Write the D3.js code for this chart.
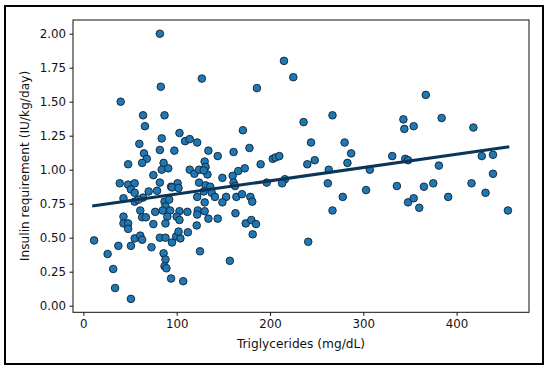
<!DOCTYPE html>
<html>
<head>
<meta charset="utf-8">
<script src="https://cdn.jsdelivr.net/npm/d3@7"></script>
<style>
  body { margin: 0; background: #fff; }
  text { font-family: "DejaVu Sans", sans-serif; }
</style>
</head>
<body>
<div class="mainContainer"></div>
<script>
// triglycerides (mg/dL) and insulin requirement (IU/kg/day)
const trig = [
  215, 225, 236, 267, 244, 280, 287, 240, 248, 283, 263, 262, 307, 303, 278, 267,
  331, 336, 343, 344, 345, 348, 348, 241, 216, 367, 384, 354, 418, 381, 427, 439,
  439, 365, 375, 416, 431, 354, 360, 391, 455, 213, 203, 206, 210, 190, 186, 196.5,
  82, 83, 40, 64, 87, 66, 103, 84, 60, 82, 97.5, 109, 114, 122, 65, 68,
  48, 63, 86, 127, 171, 134, 178, 161, 144, 130, 39, 48, 55, 75, 82, 84,
  91, 94, 101, 114, 119, 124, 131, 133, 124, 131, 136, 149, 160, 166, 173, 161,
  162.6, 129, 51, 55, 70, 79, 95, 102, 43, 55, 64, 59, 87, 92, 88, 61,
  77, 85, 93, 103, 63, 67, 90, 100, 103, 88, 43, 43, 48, 48, 75, 55,
  61, 63, 37.5, 51, 73, 82, 88, 95, 99.5, 104, 102, 11.5, 26, 32, 34, 51,
  86, 88, 87, 89, 94, 107, 125, 157, 112, 121.5, 134, 144, 163, 174, 180, 181.5,
  185, 122, 129, 137.6, 141, 153, 164, 170, 179, 181, 149, 130, 111.5, 122.6, 130, 122
];
const insulin = [
  1.80, 1.68, 1.35, 1.40, 1.20, 1.20, 1.12, 1.04, 1.07, 1.05, 1.00, 0.90, 1.00, 0.85, 0.80, 0.70,
  1.10, 0.88, 1.37, 1.30, 1.08, 1.07, 0.76, 0.47, 0.93, 1.55, 1.38, 1.32, 1.31, 1.03, 1.10, 1.11,
  0.97, 0.875, 0.90, 0.90, 0.83, 0.79, 0.72, 0.80, 0.70, 0.90, 1.08, 1.09, 1.10, 1.04, 1.60, 0.905,
  2.00, 1.61, 1.50, 1.40, 1.40, 1.32, 1.27, 1.23, 1.19, 1.145, 1.14, 1.21, 1.225, 1.20, 1.12, 1.08,
  1.04, 1.05, 1.05, 1.67, 1.29, 1.14, 1.16, 1.13, 1.10, 1.06, 0.90, 0.89, 0.90, 0.96, 0.905, 1.00,
  1.01, 0.875, 0.90, 1.00, 0.97, 1.00, 1.02, 0.965, 0.905, 0.885, 0.875, 0.94, 0.955, 0.99, 1.01, 0.905,
  0.88, 0.995, 0.855, 0.83, 0.84, 0.845, 0.87, 0.865, 0.79, 0.765, 0.795, 0.78, 0.765, 0.78, 0.73, 0.70,
  0.69, 0.70, 0.70, 0.695, 0.65, 0.65, 0.655, 0.655, 0.63, 0.605, 0.655, 0.605, 0.605, 0.565, 0.60, 0.495,
  0.515, 0.485, 0.44, 0.44, 0.43, 0.50, 0.50, 0.465, 0.51, 0.495, 0.545, 0.48, 0.38, 0.27, 0.13, 0.05,
  0.385, 0.34, 0.29, 0.275, 0.20, 0.18, 0.40, 0.33, 0.54, 0.59, 0.64, 0.64, 0.68, 0.605, 0.63, 0.525,
  0.60, 0.80, 0.84, 0.83, 0.80, 0.80, 0.80, 0.82, 0.80, 0.765, 0.76, 0.76, 0.69, 0.70, 0.695, 0.67
];
const xTicks = [0, 100, 200, 300, 400];
const yTicks = [0, 0.25, 0.5, 0.75, 1.0, 1.25, 1.5, 1.75, 2.0];
// fitted line: insulin = fitA + fitB * trig
const fitA = 0.7236;
const fitB = 0.000975;

const data = trig.map((t, i) => ({ t: t, v: insulin[i] }));

const svg = d3.select('.mainContainer')
    .append('svg')
    .attr('width', 550)
    .attr('height', 373);

// outer border
svg.append('rect')
    .attr('x', 5).attr('y', 6)
    .attr('width', 538).attr('height', 358)
    .attr('fill', 'none')
    .attr('stroke', '#000')
    .attr('stroke-width', 2);

const x = d3.scaleLinear()
    .domain([-11.1, 477.6])
    .range([73, 529]);

const y = d3.scaleLinear()
    .domain([-0.0485, 2.1007])
    .range([312.3, 20]);

const xAxis = d3.axisBottom(x)
    .tickValues(xTicks)
    .tickFormat(d3.format('d'))
    .tickSize(3.5)
    .tickPadding(3.5);

const yAxis = d3.axisLeft(y)
    .tickValues(yTicks)
    .tickFormat(d3.format('.2f'))
    .tickSize(3.5)
    .tickPadding(3.5);

const xAxisGroup = svg.append('g')
    .attr('transform', `translate(0,${y.range()[0]})`)
    .call(xAxis);
const yAxisGroup = svg.append('g')
    .attr('transform', `translate(${x.range()[0]},0)`)
    .call(yAxis);

[xAxisGroup, yAxisGroup].forEach(g => {
    g.select('.domain').remove();
    g.selectAll('text')
        .attr('font-family', '"DejaVu Sans", sans-serif')
        .attr('font-size', 11.8)
        .attr('fill', '#111');
    g.selectAll('line').attr('stroke', '#111');
});

// points
svg.append('g').selectAll('circle')
    .data(data)
    .enter()
    .append('circle')
    .attr('cx', d => x(d.t))
    .attr('cy', d => y(d.v))
    .attr('r', 3.8)
    .attr('fill', '#1f77b4')
    .attr('stroke', '#0d2233')
    .attr('stroke-width', 0.9);

// regression line
const tMin = d3.min(trig) - 2;
const tMax = d3.max(trig) + 1.5;
svg.append('line')
    .attr('x1', x(tMin)).attr('y1', y(fitA + fitB * tMin))
    .attr('x2', x(tMax)).attr('y2', y(fitA + fitB * tMax))
    .attr('stroke', '#0b3558')
    .attr('stroke-width', 3.2)
    .attr('stroke-linecap', 'butt');

// plot frame
svg.append('rect')
    .attr('x', 73).attr('y', 20)
    .attr('width', 456).attr('height', 292.3)
    .attr('fill', 'none')
    .attr('stroke', '#111')
    .attr('stroke-width', 1);

svg.append('text')
    .attr('x', (73 + 529) / 2)
    .attr('y', 348)
    .attr('text-anchor', 'middle')
    .attr('font-size', 12.2)
    .attr('fill', '#111')
    .text('Triglycerides (mg/dL)');

svg.append('text')
    .attr('transform', `translate(29,${(20 + 312) / 2}) rotate(-90)`)
    .attr('text-anchor', 'middle')
    .attr('font-size', 12.2)
    .attr('fill', '#111')
    .text('Insulin requirement (IU/kg/day)');
</script>
</body>
</html>
